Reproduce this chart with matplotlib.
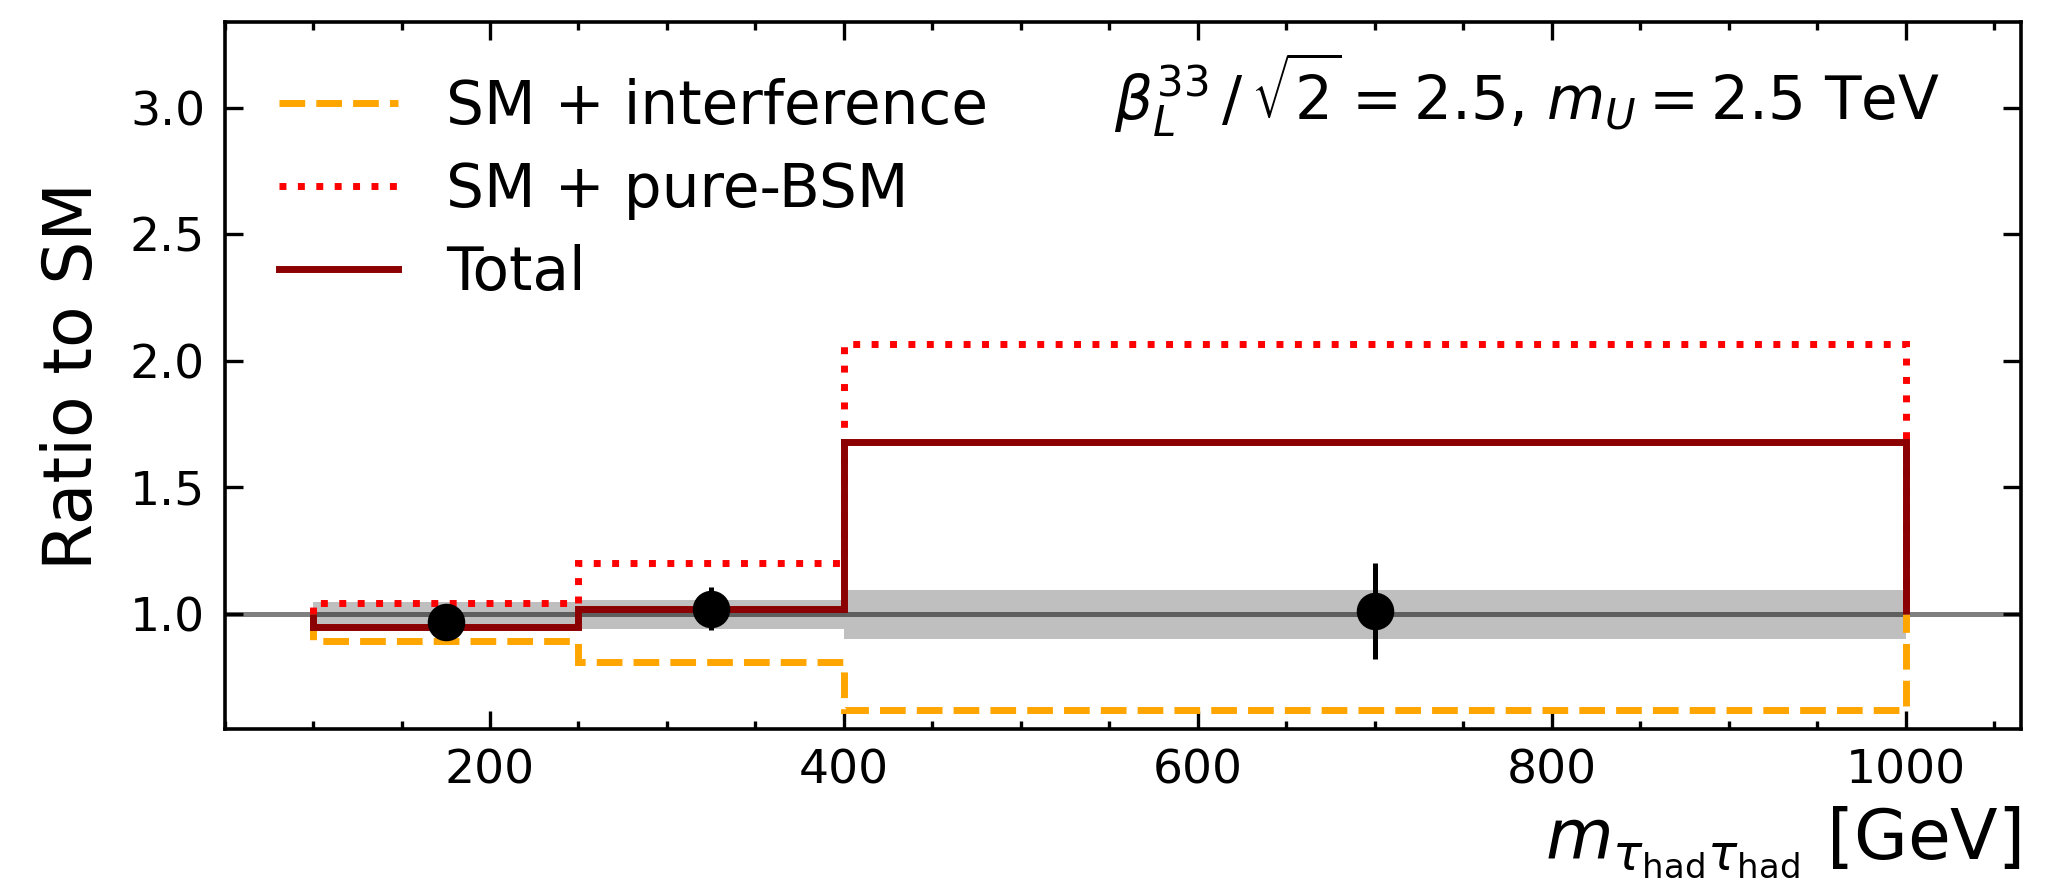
import numpy as np
import matplotlib
matplotlib.use("Agg")
import matplotlib.pyplot as plt
from matplotlib.ticker import MultipleLocator

# ---- data ----
bin_edges = [100, 250, 400, 1000]
sm_interference = [0.89, 0.81, 0.62]
sm_pure_bsm = [1.04, 1.20, 2.065]
total = [0.945, 1.02, 1.68]

band_low = [0.955, 0.94, 0.90]
band_high = [1.045, 1.055, 1.095]

data_x = [175, 325, 700]
data_y = [0.965, 1.02, 1.01]
data_err = [0.03, 0.085, 0.19]

fig, ax = plt.subplots(figsize=(10.3, 4.44), dpi=200)
fig.subplots_adjust(left=0.109, right=0.981, top=0.975, bottom=0.179)

# uncertainty band around SM
ax.stairs(band_high, bin_edges, baseline=band_low, fill=True,
          color='gray', alpha=0.5, linewidth=0, zorder=1)
ax.axhline(1.0, color='black', alpha=0.5, lw=1.8, zorder=2)

ax.stairs(sm_interference, bin_edges, baseline=1.0, color='orange',
          ls='--', lw=2.5, label='SM + interference', zorder=3)
ax.stairs(sm_pure_bsm, bin_edges, baseline=1.0, color='red',
          ls=':', lw=2.5, label='SM + pure-BSM', zorder=3)
ax.stairs(total, bin_edges, baseline=1.0, color='darkred',
          ls='-', lw=2.5, label='Total', zorder=4)

ax.errorbar(data_x, data_y, yerr=data_err, fmt='o', color='black',
            ms=12.5, lw=1.8, zorder=5)

ax.set_xlim(50, 1065)
ax.set_ylim(0.543, 3.34)
ax.xaxis.set_major_locator(MultipleLocator(200))
ax.xaxis.set_minor_locator(MultipleLocator(50))
ax.yaxis.set_major_locator(MultipleLocator(0.5))
ax.tick_params(which='both', direction='in', top=True, right=True,
               labelsize=17, width=1.2)
ax.tick_params(which='major', length=6.5, pad=7)
ax.tick_params(which='minor', length=3)
for s in ax.spines.values():
    s.set_linewidth(1.3)

ax.set_ylabel('Ratio to SM', fontsize=24.5)
ax.yaxis.set_label_coords(-0.066, 0.5)
ax.set_xlabel(r'$m_{\tau_{\mathrm{had}}\tau_{\mathrm{had}}}$ [GeV]',
              fontsize=25, loc='right')
ax.xaxis.labelpad = 4

ax.text(0.955, 0.96, r'$\beta_L^{33}\,/\,\sqrt{2} = 2.5$, $m_U = 2.5$ TeV',
        transform=ax.transAxes, ha='right', va='top', fontsize=21.5)

ax.legend(loc='upper left', frameon=False, fontsize=21.5, handlelength=2.0,
          handletextpad=0.8, labelspacing=0.4, borderaxespad=0.3,
          bbox_to_anchor=(0.007, 0.98))

fig.savefig('out.png', dpi=200)
